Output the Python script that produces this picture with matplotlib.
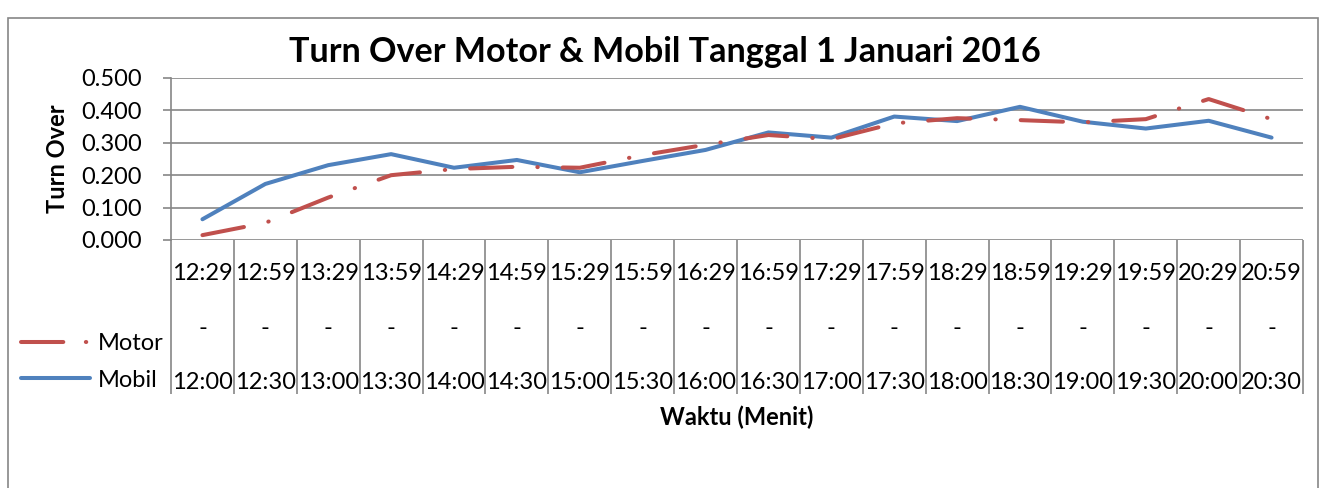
import matplotlib
matplotlib.use("Agg")
import matplotlib.pyplot as plt
from matplotlib.patches import Rectangle
from matplotlib.lines import Line2D

plt.rcParams['font.family'] = ['Lato', 'DejaVu Sans']

# waktu (akhir / awal tiap interval 30 menit)
waktu_akhir = ['12:29', '12:59', '13:29', '13:59', '14:29', '14:59', '15:29', '15:59', '16:29',
               '16:59', '17:29', '17:59', '18:29', '18:59', '19:29', '19:59', '20:29', '20:59']
waktu_awal = ['12:00', '12:30', '13:00', '13:30', '14:00', '14:30', '15:00', '15:30', '16:00',
              '16:30', '17:00', '17:30', '18:00', '18:30', '19:00', '19:30', '20:00', '20:30']

motor = [0.015, 0.053, 0.131, 0.200, 0.219, 0.226, 0.223, 0.262, 0.294,
         0.324, 0.311, 0.360, 0.376, 0.370, 0.363, 0.373, 0.435, 0.373]
mobil = [0.064, 0.173, 0.231, 0.265, 0.223, 0.247, 0.209, 0.244, 0.278,
         0.332, 0.316, 0.381, 0.367, 0.411, 0.365, 0.344, 0.368, 0.316]

labels = [a + '\n-\n' + b for a, b in zip(waktu_akhir, waktu_awal)]
W, H = 1325, 488
grey = '#868686'
red = '#C0504D'
blue = '#4F81BD'
lw = 2.9
dash = (10.5, 6.2, 0.1, 6.2)

fig = plt.figure(figsize=(W / 100, H / 100), dpi=100)
ax = fig.add_axes([171 / W, (H - 240) / H, (1303 - 171) / W, (240 - 78) / H])

x = range(len(labels))
ax.plot(x, mobil, color=blue, lw=lw, solid_capstyle='round', solid_joinstyle='round', zorder=3)
ax.plot(x, motor, color=red, lw=lw, dashes=dash, dash_capstyle='round', zorder=4)

ax.set_xlim(-0.5, len(labels) - 0.5)
ax.set_ylim(0, 0.5)
ax.set_yticks([0, 0.1, 0.2, 0.3, 0.4, 0.5])
ax.set_yticklabels(['%.3f' % v for v in [0, 0.1, 0.2, 0.3, 0.4, 0.5]], fontsize=17)
ax.yaxis.grid(True, color=grey, lw=1.2)
ax.set_axisbelow(True)

ax.set_xticks(list(x))
ax.set_xticklabels(labels, fontsize=17, linespacing=2.98)
ax.set_xticks([i - 0.5 for i in range(len(labels) + 1)], minor=True)
ax.tick_params(axis='x', which='major', length=0, pad=16.6)
ax.tick_params(axis='x', which='minor', length=111, width=1.2, color=grey, direction='out')
ax.tick_params(axis='y', length=5.8, width=1.2, color=grey, pad=15)

for s in ['top', 'right', 'bottom']:
    ax.spines[s].set_visible(False)
ax.spines['left'].set_color(grey)
ax.spines['left'].set_linewidth(1.2)

ax.set_ylabel('Turn Over', fontsize=17, fontweight='bold', labelpad=9)
fig.text(737 / W, 1 - 417 / H, 'Waktu (Menit)', fontsize=17, fontweight='bold',
         ha='center', va='center')
fig.text(665 / W, 1 - 52 / H, 'Turn Over Motor & Mobil Tanggal 1 Januari 2016',
         fontsize=24.6, fontweight='bold', ha='center', va='center')

handles = [Line2D([], [], color=red, lw=lw, dashes=(10.5, 5.6, 0.1, 8), dash_capstyle='round'),
           Line2D([], [], color=blue, lw=lw, solid_capstyle='round')]
fig.legend(handles, ['Motor', 'Mobil'], loc='center left', bbox_to_anchor=(9 / W, 1 - 362 / H),
           frameon=False, fontsize=17, handlelength=2.95, handletextpad=0.3,
           labelspacing=0.65, borderpad=0)

fig.add_artist(Rectangle((8 / W, -0.1), (1318 - 8) / W, 0.1 + (H - 18) / H,
                         transform=fig.transFigure, fill=False, edgecolor=grey, lw=1.2))

fig.savefig('out.png', dpi=100)
